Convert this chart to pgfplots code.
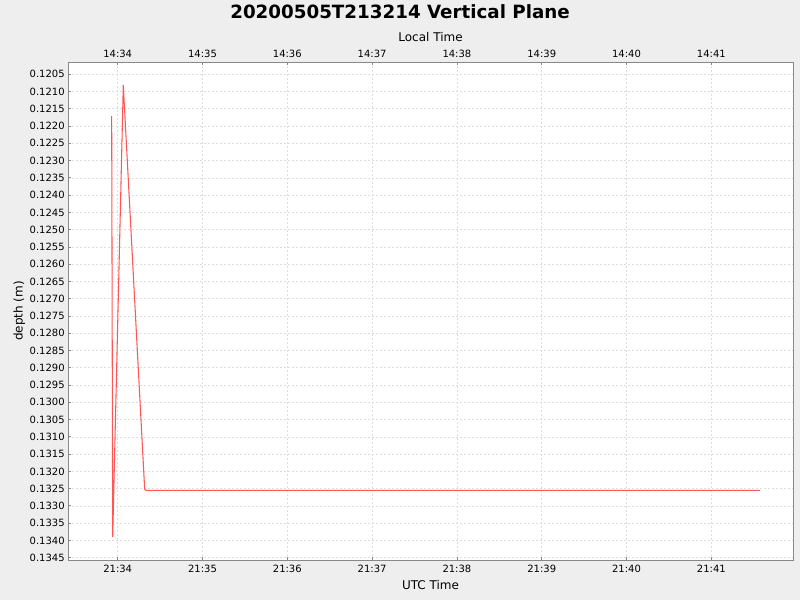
\documentclass[border=0pt]{standalone}
\usepackage{fontspec}
\setmainfont{DejaVu Sans}
\usepackage{pgfplots}
\pgfplotsset{compat=1.18}
\definecolor{bg}{HTML}{EEEEEE}
\definecolor{frame}{HTML}{888888}
\definecolor{gridc}{HTML}{DDDDDD}
\definecolor{series}{HTML}{FF5555}
\begin{document}
\begin{tikzpicture}
\fill[bg] (0,0) rectangle (600bp,450bp);
\useasboundingbox (0,0) rectangle (600bp,450bp);
\node[font=\fontsize{13.7bp}{16bp}\selectfont\bfseries] at (300bp,441bp) {20200505T213214 Vertical Plane};
\pgfplotsset{
  common/.style={
    scale only axis, width=543.75bp, height=373.5bp,
    at={(51bp,30bp)}, anchor=south west,
    xmin=33.414, xmax=41.963,
    xtick={34,35,36,37,38,39,40,41},
    tick label style={font=\fontsize{7.5bp}{9bp}\selectfont, text=black},
    label style={font=\fontsize{9bp}{11bp}\selectfont},
    major tick length=2bp,
    tick style={frame, line width=0.6bp},
  }
}
\begin{axis}[common,
  y dir=reverse,
  ymin=0.120144, ymax=0.134567,
  ytick={0.1205,0.1210,0.1215,0.1220,0.1225,0.1230,0.1235,0.1240,0.1245,0.1250,0.1255,0.1260,0.1265,0.1270,0.1275,0.1280,0.1285,0.1290,0.1295,0.1300,0.1305,0.1310,0.1315,0.1320,0.1325,0.1330,0.1335,0.1340,0.1345},
  /pgf/number format/fixed,
  /pgf/number format/fixed zerofill,
  /pgf/number format/precision=4,
  /pgf/number format/assume math mode=true,
  scaled y ticks=false,
  xticklabels={21:34,21:35,21:36,21:37,21:38,21:39,21:40,21:41},
  tick pos=left,
  grid=major,
  major grid style={gridc, dash pattern=on 1.5bp off 1.5bp, line width=0.5bp},
  axis line style={frame, line width=0.75bp},
  axis background/.style={fill=white},
  xlabel={UTC Time},
  ylabel={depth (m)},
  xlabel style={yshift=1bp},
  ylabel style={yshift=-3.5bp},
  yticklabel style={xshift=1bp},
]
\addplot[series, line width=0.8bp] coordinates {
  (33.929,0.12171)
  (33.941,0.133905)
  (34.066,0.12081)
  (34.318,0.132515)
  (34.334,0.13255)
  (41.571,0.13255)
};
\end{axis}
\begin{axis}[common,
  axis x line*=top,
  axis y line=none,
  ymin=0, ymax=1,
  xticklabels={14:34,14:35,14:36,14:37,14:38,14:39,14:40,14:41},
  axis line style={draw=none},
  xlabel={Local Time},
  xlabel style={yshift=-0.75bp},
]
\end{axis}
\end{tikzpicture}
\end{document}
